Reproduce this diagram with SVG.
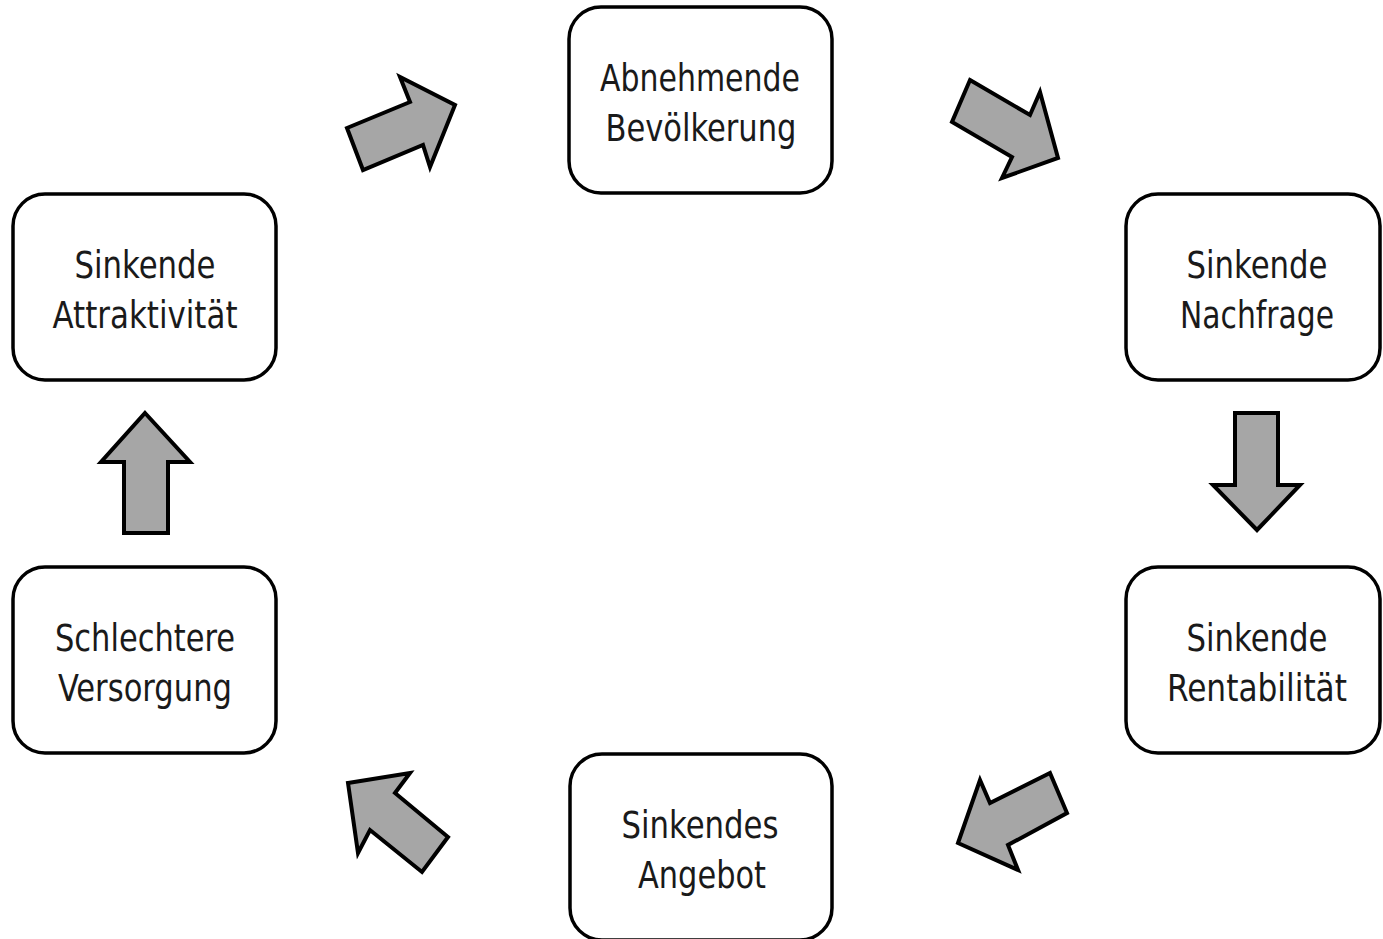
<svg xmlns="http://www.w3.org/2000/svg" width="1383" height="939" viewBox="0 0 1383 939">
<style>
.box{fill:#fff;stroke:#000;stroke-width:3.5}
.lbl{font-family:"DejaVu Sans Condensed","DejaVu Sans",sans-serif;font-stretch:condensed;font-size:37px;fill:#1a1a1a;text-anchor:middle}
.arr{fill:#a6a6a6;stroke:#000;stroke-width:4;stroke-linejoin:miter}
</style>
<rect width="1383" height="939" fill="#fff"/>
<g id="n1"><rect class="box" x="569" y="7" width="263" height="186" rx="32"/><text class="lbl" x="700" y="91" textLength="200" lengthAdjust="spacingAndGlyphs">Abnehmende</text><text class="lbl" x="701" y="141" textLength="191" lengthAdjust="spacingAndGlyphs">Bevölkerung</text></g>
<g id="n2"><rect class="box" x="1126" y="194" width="254" height="186" rx="32"/><text class="lbl" x="1257" y="278" textLength="141" lengthAdjust="spacingAndGlyphs">Sinkende</text><text class="lbl" x="1257" y="328" textLength="154" lengthAdjust="spacingAndGlyphs">Nachfrage</text></g>
<g id="n3"><rect class="box" x="1126" y="567" width="254" height="186" rx="32"/><text class="lbl" x="1257" y="651" textLength="141" lengthAdjust="spacingAndGlyphs">Sinkende</text><text class="lbl" x="1257" y="701" textLength="180" lengthAdjust="spacingAndGlyphs">Rentabilität</text></g>
<g id="n4"><rect class="box" x="570" y="754" width="262" height="186" rx="32"/><text class="lbl" x="700" y="838" textLength="157" lengthAdjust="spacingAndGlyphs">Sinkendes</text><text class="lbl" x="702" y="888" textLength="128" lengthAdjust="spacingAndGlyphs">Angebot</text></g>
<g id="n5"><rect class="box" x="13" y="567" width="263" height="186" rx="32"/><text class="lbl" x="145" y="651" textLength="180" lengthAdjust="spacingAndGlyphs">Schlechtere</text><text class="lbl" x="145" y="701" textLength="174" lengthAdjust="spacingAndGlyphs">Versorgung</text></g>
<g id="n6"><rect class="box" x="13" y="194" width="263" height="186" rx="32"/><text class="lbl" x="145" y="278" textLength="141" lengthAdjust="spacingAndGlyphs">Sinkende</text><text class="lbl" x="145" y="328" textLength="185" lengthAdjust="spacingAndGlyphs">Attraktivität</text></g>
<g id="connectors">
<polygon class="arr" points="347,128 410,102 400,77 455,105 430,167 423,145 363,170"/>
<polygon class="arr" points="970,80 1030,115 1040,92 1058,158 1002,178 1012,157 952,122"/>
<polygon class="arr" points="1235,413 1278,413 1278,485 1300,485 1257,530 1213,485 1235,485"/>
<polygon class="arr" points="1050,773 1067,813 1008,845 1018,870 958,843 980,780 990,803"/>
<polygon class="arr" points="348,783 410,773 395,793 448,837 422,872 370,830 358,853"/>
<polygon class="arr" points="145,413 190,462 168,462 168,533 124,533 124,462 101,462"/>
</g>
</svg>
